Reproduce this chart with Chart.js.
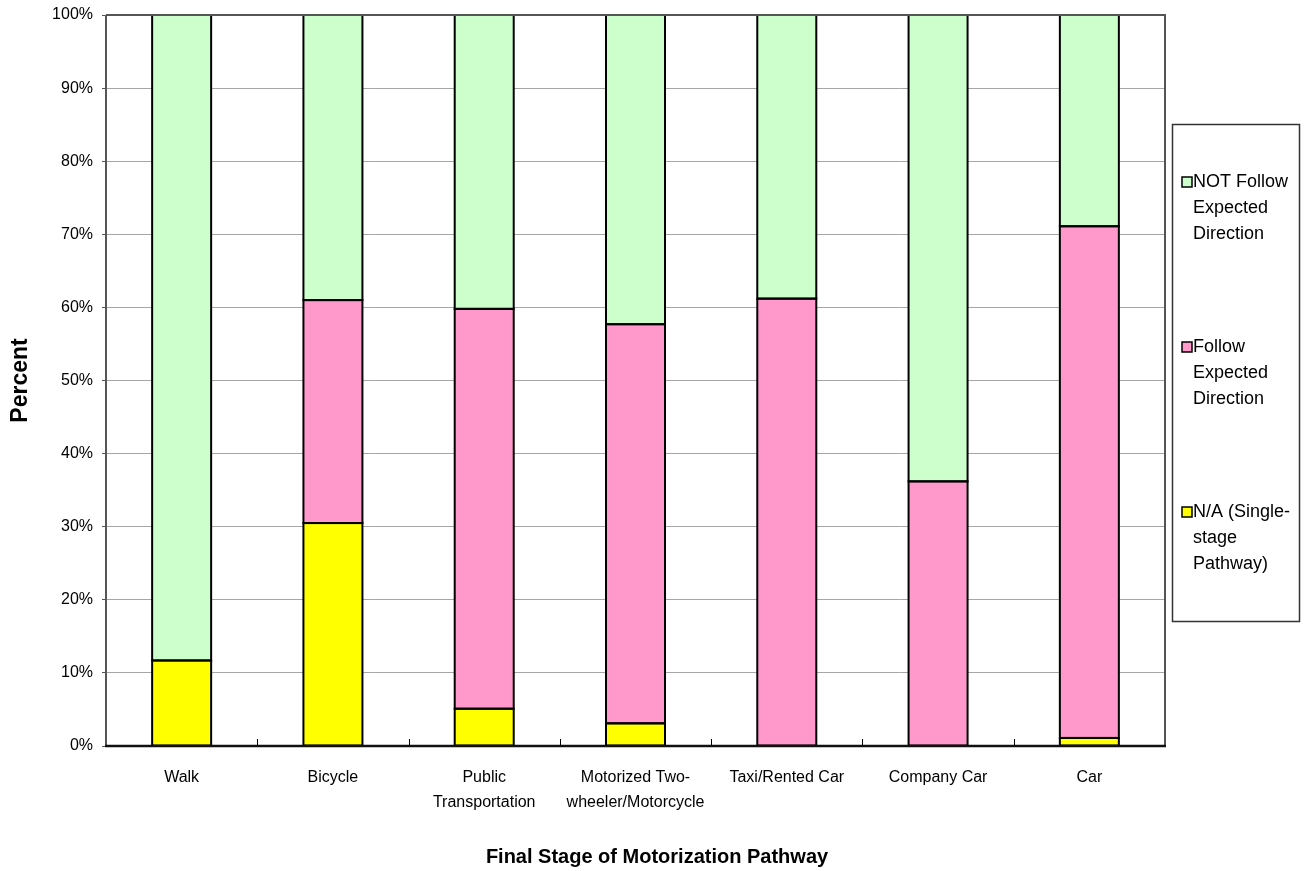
<!DOCTYPE html>
<html>
<head>
<meta charset="utf-8">
<script src="https://cdn.jsdelivr.net/npm/chart.js@4.4.1/dist/chart.umd.min.js"></script>
<style>
  html, body { margin: 0; padding: 0; background: #ffffff; }
  #wrap { width: 1305px; height: 871px; position: relative; }
</style>
</head>
<body>
<div id="wrap"><canvas id="chart"></canvas></div>
<script>
// Final stage of motorization pathway (x categories)
const categories = [
  'Walk',
  'Bicycle',
  ['Public', 'Transportation'],
  ['Motorized Two-', 'wheeler/Motorcycle'],
  'Taxi/Rented Car',
  'Company Car',
  'Car'
];

// Shares in percent, bottom to top of each stack
const naSingleStage   = [11.7, 30.5, 5.1, 3.1, 0, 0, 1.1];
const followExpected  = [0, 30.5, 54.7, 54.6, 61.2, 36.2, 70.0];
const notFollow       = [88.3, 39.0, 40.2, 42.3, 38.8, 63.8, 28.9];

const seriesLabels = [
  ['N/A (Single-', 'stage', 'Pathway)'],
  ['Follow', 'Expected', 'Direction'],
  ['NOT Follow', 'Expected', 'Direction']
];
const seriesColors = ['#FFFF00', '#FF99CC', '#CCFFCC'];

const yTicks = [0, 10, 20, 30, 40, 50, 60, 70, 80, 90, 100];

const xTitle = 'Final Stage of Motorization Pathway';

const FONT = 'Arial, "Liberation Sans", Helvetica, sans-serif';

// Black outline around every stacked segment, centred on its edges
const segmentOutlines = {
  id: 'segmentOutlines',
  afterDatasetsDraw(chart) {
    const ctx = chart.ctx;
    ctx.save();
    ctx.strokeStyle = '#000000';
    ctx.lineWidth = 2;
    chart.data.datasets.forEach((ds, di) => {
      const meta = chart.getDatasetMeta(di);
      meta.data.forEach(el => {
        const p = el.getProps(['x', 'y', 'base', 'width'], true);
        const h = Math.abs(p.base - p.y);
        if (h < 0.5) return;
        const left = p.x - p.width / 2;
        const top = Math.min(p.y, p.base);
        ctx.strokeRect(left, top, p.width, h);
      });
    });
    ctx.restore();
  }
};

// Inward tick marks on the category axis, a full frame, the axis title and the side legend
const frameAndLegend = {
  id: 'frameAndLegend',
  afterDraw(chart) {
    const ctx = chart.ctx;
    const area = chart.chartArea;
    const x = chart.scales.x;
    ctx.save();
    // category boundary ticks pointing up from the axis
    ctx.strokeStyle = '#000000';
    ctx.lineWidth = 1;
    const n = categories.length;
    for (let i = 0; i < n - 1; i++) {
      const bx = Math.round((x.getPixelForValue(i) + x.getPixelForValue(i + 1)) / 2) + 0.5;
      ctx.beginPath();
      ctx.moveTo(bx, area.bottom);
      ctx.lineTo(bx, area.bottom - 7);
      ctx.stroke();
    }
    // frame
    ctx.strokeStyle = '#555555';
    ctx.lineWidth = 2;
    ctx.beginPath();
    ctx.moveTo(area.left, area.top);
    ctx.lineTo(area.right, area.top);
    ctx.lineTo(area.right, area.bottom);
    ctx.stroke();
    ctx.beginPath();
    ctx.moveTo(area.left, area.top);
    ctx.lineTo(area.left, area.bottom);
    ctx.stroke();
    ctx.strokeStyle = '#111111';
    ctx.lineWidth = 2.5;
    ctx.beginPath();
    ctx.moveTo(area.left - 1, area.bottom);
    ctx.lineTo(area.right + 1, area.bottom);
    ctx.stroke();

    // category axis title, centred under the whole figure
    ctx.font = 'bold 20px ' + FONT;
    ctx.fillStyle = '#000000';
    ctx.textAlign = 'center';
    ctx.textBaseline = 'middle';
    ctx.fillText(xTitle, 657, 857);

    // legend box
    const lx = 1172, ly = 124, lw = 127, lh = 497;
    ctx.strokeStyle = '#333333';
    ctx.lineWidth = 1.5;
    ctx.strokeRect(lx + 0.5, ly + 0.5, lw, lh);
    ctx.font = '18px ' + FONT;
    ctx.fillStyle = '#000000';
    ctx.textBaseline = 'middle';
    ctx.textAlign = 'left';
    const itemY = [182, 347, 512];
    const order = [2, 1, 0];
    order.forEach((di, k) => {
      const y0 = itemY[k];
      ctx.fillStyle = seriesColors[di];
      ctx.fillRect(1182, y0 - 5, 10, 10);
      ctx.strokeStyle = '#000000';
      ctx.lineWidth = 1.5;
      ctx.strokeRect(1182, y0 - 5, 10, 10);
      ctx.fillStyle = '#000000';
      seriesLabels[di].forEach((line, j) => {
        ctx.fillText(line, 1193, y0 + j * 26);
      });
    });
    ctx.restore();
  }
};

const datasets = [naSingleStage, followExpected, notFollow].map((vals, i) => ({
  label: seriesLabels[i].join(' '),
  data: vals,
  backgroundColor: seriesColors[i],
  borderWidth: 0,
  categoryPercentage: 1.0,
  barPercentage: 0.39
}));

new Chart(document.getElementById('chart'), {
  type: 'bar',
  data: { labels: categories, datasets },
  options: {
    responsive: true,
    maintainAspectRatio: false,
    animation: false,
    layout: { padding: { left: 0, right: 140, top: 15, bottom: 0 } },
    plugins: {
      legend: { display: false },
      tooltip: { enabled: false }
    },
    scales: {
      x: {
        stacked: true,
        grid: { display: false },
        border: { display: false },
        ticks: {
          color: '#000000',
          font: { family: FONT, size: 16, lineHeight: 1.55 },
          padding: 11,
          maxRotation: 0,
          autoSkip: false
        },
        afterFit(scale) { scale.height = 125; }
      },
      y: {
        stacked: true,
        min: 0,
        max: 100,
        afterBuildTicks(scale) { scale.ticks = yTicks.map(v => ({ value: v })); },
        grid: {
          color: '#a6a6a6',
          lineWidth: 1,
          drawTicks: true,
          tickLength: 4,
          tickColor: '#555555'
        },
        border: { display: false },
        ticks: {
          color: '#000000',
          font: { family: FONT, size: 16 },
          padding: 9,
          callback: v => v + '%'
        },
        title: {
          display: true,
          text: 'Percent',
          color: '#000000',
          font: { family: FONT, size: 23, weight: 'bold' },
          padding: { top: 7, bottom: 0 }
        },
        afterFit(scale) {
          scale.width = 106;
          scale.paddingTop = 0;
          scale.paddingBottom = 0;
        }
      }
    }
  },
  plugins: [segmentOutlines, frameAndLegend]
});
</script>
</body>
</html>
